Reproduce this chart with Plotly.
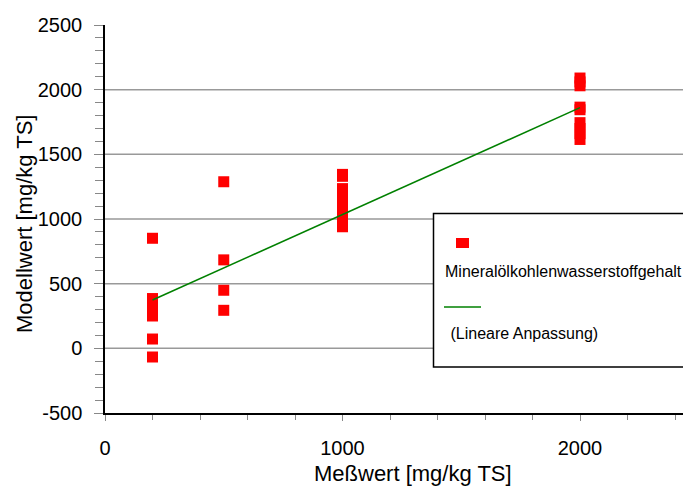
import plotly.graph_objects as go

# ---- data ----
x_200 = [200, 200, 200, 200, 200, 200, 200]
y_200 = [851, 385, 340, 295, 250, 72, -67]
x_500 = [500, 500, 500, 500]
y_500 = [1288, 684, 449, 294]
x_1000 = [1000] * 10
y_1000 = [1345, 1330, 1235, 1190, 1140, 1100, 1060, 1020, 980, 940]
x_2000 = [2000] * 9
y_2000 = [2090, 2060, 2030, 1865, 1845, 1745, 1700, 1660, 1615]
fit_x = [200, 2000]
fit_y = [373, 1861]
y_ticks = [-500, 0, 500, 1000, 1500, 2000, 2500]
y_tick_text = ["-500", "0", "500", "1000", "1500", "2000", "2500"]
x_ticks = [0, 1000, 2000]
x_tick_text = ["0", "1000", "2000"]
grid_vals = [0, 500, 1000, 1500, 2000]
series_name = "Mineralölkohlenwasserstoffgehalt"
fit_name = " (Lineare Anpassung)"

meas_x = x_200 + x_500 + x_1000 + x_2000
meas_y = y_200 + y_500 + y_1000 + y_2000

FONT = "Liberation Sans, Arial, sans-serif"
OFF = 8  # page body margin
WIN_W, WIN_H = 691, 489
W, H = WIN_W - OFF, WIN_H - OFF
# target plot area in window pixels
PX0, PX1, PY0, PY1 = 105, 691, 25, 413
L, T = PX0 - OFF, PY0 - OFF
R, B = (OFF + W) - PX1, (OFF + H) - PY1
PW, PH = PX1 - PX0, PY1 - PY0

def px(xp):
    return (xp - PX0) / PW

def py(yp):
    return (PY1 - yp) / PH

fig = go.Figure()

fig.add_trace(go.Scatter(
    x=meas_x, y=meas_y, mode="markers", name=series_name,
    marker=dict(symbol="square", size=11, color="#ff0000",
                line=dict(width=0)),
    showlegend=False))

fig.add_trace(go.Scatter(
    x=fit_x, y=fit_y, mode="lines", name=fit_name,
    line=dict(color="#008000", width=1.6), showlegend=False))

shapes = []
for g in grid_vals:
    shapes.append(dict(type="line", xref="paper", yref="y", x0=0, x1=1,
                       y0=g, y1=g, line=dict(color="#999999", width=1.5),
                       layer="below"))
# legend box
shapes.append(dict(type="rect", xref="paper", yref="paper",
                   x0=px(433.5), x1=px(685.5), y0=py(367), y1=py(213.5),
                   line=dict(color="black", width=1.5), fillcolor="white"))
shapes.append(dict(type="rect", xref="paper", yref="paper",
                   x0=px(456), x1=px(469), y0=py(248), y1=py(238),
                   line=dict(width=0), fillcolor="#ff0000"))
shapes.append(dict(type="line", xref="paper", yref="paper",
                   x0=px(444), x1=px(481), y0=py(307), y1=py(307),
                   line=dict(color="#008000", width=1.6)))

annotations = [
    dict(text=series_name, xref="paper", yref="paper", x=px(443), y=py(271.5),
         xanchor="left", yanchor="middle", showarrow=False,
         font=dict(family=FONT, size=16, color="black")),
    dict(text=fit_name, xref="paper", yref="paper", x=px(444), y=py(333.5),
         xanchor="left", yanchor="middle", showarrow=False,
         font=dict(family=FONT, size=16, color="black")),
    dict(text="Meßwert [mg/kg TS]", xref="paper", yref="paper",
         x=px(413), y=py(474), xanchor="center", yanchor="middle",
         showarrow=False, font=dict(family=FONT, size=22, color="black")),
    dict(text="Modellwert [mg/kg TS]", xref="paper", yref="paper",
         x=px(25), y=py(224), xanchor="center", yanchor="middle",
         textangle=-90, showarrow=False,
         font=dict(family=FONT, size=22, color="black")),
]

fig.update_layout(
    width=W, height=H,
    margin=dict(l=L, r=R, t=T, b=B, pad=0),
    paper_bgcolor="white", plot_bgcolor="white",
    font=dict(family=FONT, size=20, color="black"),
    shapes=shapes, annotations=annotations,
    xaxis=dict(range=[0, PW / 0.2375], tickvals=x_ticks, ticktext=x_tick_text,
               showgrid=False, zeroline=False,
               showline=True, linecolor="black", linewidth=1.5,
               ticks="outside", ticklen=6, tickcolor="#888888", tickwidth=1.2,
               minor=dict(dtick=200, ticks="outside", ticklen=5,
                          tickcolor="#888888", tickwidth=1.2, showgrid=False),
               ticklabelstandoff=10,
               tickfont=dict(family=FONT, size=20, color="black")),
    yaxis=dict(range=[-500, 2500], tickvals=y_ticks, ticktext=y_tick_text,
               showgrid=False, zeroline=False,
               showline=True, linecolor="black", linewidth=1.5,
               ticks="outside", ticklen=9, tickcolor="#888888", tickwidth=1.2,
               minor=dict(dtick=100, ticks="outside", ticklen=8,
                          tickcolor="#888888", tickwidth=1.2, showgrid=False),
               ticklabelstandoff=8,
               tickfont=dict(family=FONT, size=20, color="black")),
)

fig.write_html("out.html")
